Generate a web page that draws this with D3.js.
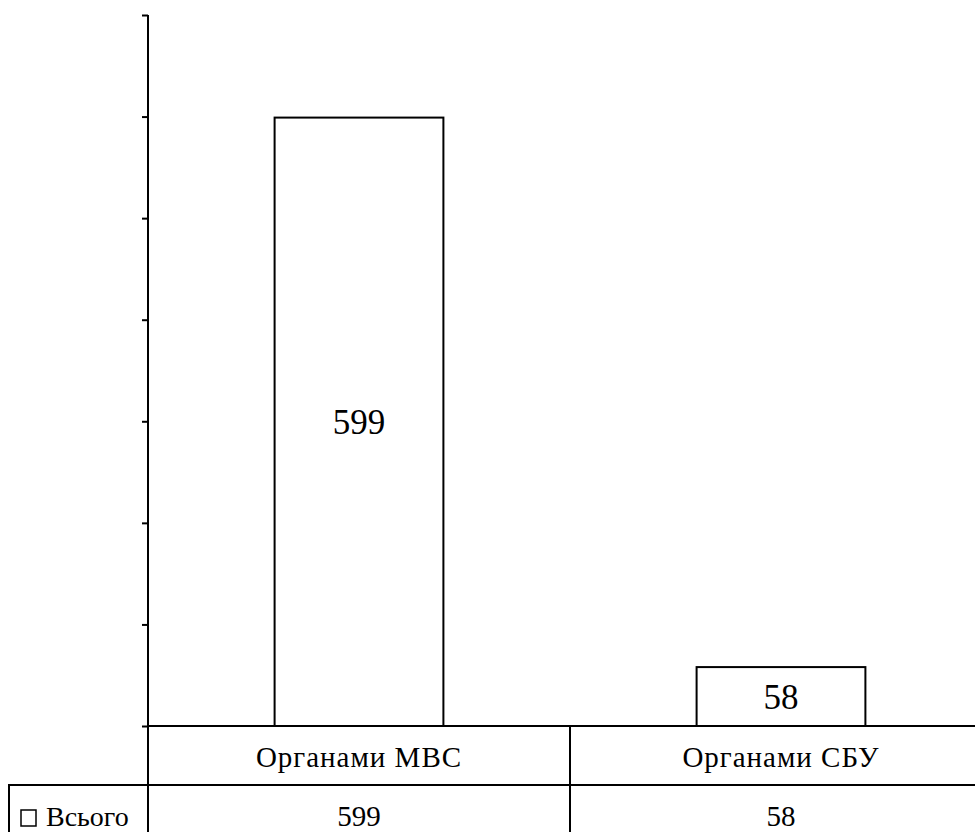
<!DOCTYPE html>
<html><head><meta charset="utf-8">
<script src="https://cdn.jsdelivr.net/npm/d3@7"></script>
<style>body{margin:0;background:#fff}svg{display:block}svg text{font-family:"Liberation Serif","DejaVu Serif",serif}</style>
</head><body>
<script>
const categories = ["Органами МВС", "Органами СБУ"];
const values = [599, 58];
const seriesName = "Всього";
const yTicks = [0, 100, 200, 300, 400, 500, 600, 700];

const W = 975, H = 832;
const svg = d3.select("body").append("svg").attr("width", W).attr("height", H);

const x = d3.scaleBand().domain(categories).range([148, 992]).paddingInner(0.6).paddingOuter(0.3);
const y = d3.scaleLinear().domain([0, 700]).range([726, 15]);

// bars
svg.selectAll("rect.bar").data(values).join("rect")
  .attr("x", (d, i) => x(categories[i]))
  .attr("y", d => y(d))
  .attr("width", x.bandwidth())
  .attr("height", d => y(0) - y(d))
  .attr("fill", "#fff").attr("stroke", "#000").attr("stroke-width", 2);

// value labels
svg.selectAll("text.val").data(values).join("text")
  .attr("x", (d, i) => x(categories[i]) + x.bandwidth() / 2)
  .attr("y", d => (y(d) + y(0)) / 2)
  .attr("dy", "0.35em")
  .attr("text-anchor", "middle")
  .attr("font-size", 35)
  .text(d => d);

// y axis
const yAxis = d3.axisLeft(y).tickValues(yTicks).tickSize(6).tickFormat("");
const gy = svg.append("g").attr("transform", "translate(148,0)").call(yAxis);
gy.select(".domain").remove();
gy.selectAll(".tick line").attr("stroke", "#000").attr("stroke-width", 2);

const line = (x1, y1, x2, y2) => svg.append("line")
  .attr("x1", x1).attr("y1", y1).attr("x2", x2).attr("y2", y2)
  .attr("stroke", "#000").attr("stroke-width", 2);

// axis + data table grid
line(148, 15, 148, H);
line(148, 726, W, 726);
line(8, 785, W, 785);
line(9, 785, 9, H);
categories.forEach((c, i) => { if (i > 0) { const xs = x(c) - x.step() * x.paddingInner() / 2; line(xs, 726, xs, H); } });

// category labels
svg.selectAll("text.cat").data(categories).join("text")
  .attr("x", c => x(c) + x.bandwidth() / 2)
  .attr("y", 767)
  .attr("text-anchor", "middle")
  .attr("font-size", 29)
  .attr("letter-spacing", "1px")
  .text(c => c);

// table values
svg.selectAll("text.tv").data(values).join("text")
  .attr("x", (d, i) => x(categories[i]) + x.bandwidth() / 2)
  .attr("y", 826)
  .attr("text-anchor", "middle")
  .attr("font-size", 29)
  .text(d => d);

// legend key
svg.append("rect").attr("x", 21).attr("y", 810).attr("width", 15).attr("height", 16)
  .attr("fill", "#fff").attr("stroke", "#000").attr("stroke-width", 1.5);
svg.append("text").attr("x", 46).attr("y", 826)
  .attr("font-size", 28).text(seriesName);
</script>
</body></html>
